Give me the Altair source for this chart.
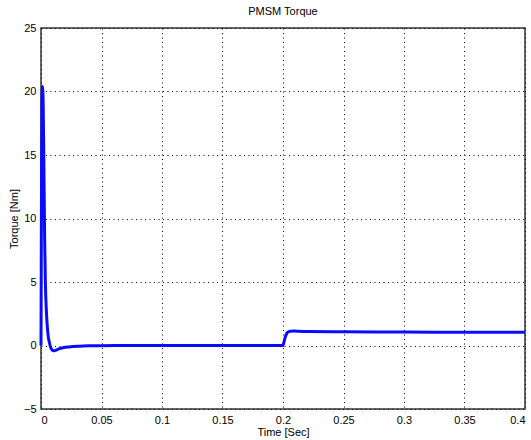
import altair as alt
import pandas as pd

time_s = [0.0, 0.0004, 0.0008, 0.0012, 0.0018, 0.0024, 0.003, 0.0036, 0.0044, 0.0052,
          0.006, 0.007, 0.008, 0.009, 0.010, 0.011, 0.012, 0.014, 0.016, 0.019,
          0.022, 0.026, 0.03, 0.035, 0.04, 0.05, 0.07, 0.1, 0.13, 0.16,
          0.19, 0.199, 0.2, 0.201, 0.202, 0.203, 0.204, 0.206, 0.209, 0.213,
          0.22, 0.25, 0.3, 0.35, 0.4]
torque_nm = [0.0, 12.0, 19.5, 20.4, 19.0, 14.0, 8.5, 5.0, 2.8, 1.5,
             0.7, 0.2, -0.15, -0.32, -0.4, -0.42, -0.38, -0.3, -0.22, -0.15,
             -0.11, -0.08, -0.05, -0.03, -0.02, -0.01, 0.0, 0.0, 0.0, 0.0,
             0.0, 0.0, 0.02, 0.35, 0.7, 0.92, 1.05, 1.12, 1.14, 1.12,
             1.1, 1.08, 1.06, 1.05, 1.05]

df = pd.DataFrame({"t": time_s, "torque": torque_nm})

font = "Liberation Sans"

chart = alt.Chart(df).mark_line(color="#0a0aff", strokeWidth=3, interpolate="monotone").encode(
    x=alt.X("t:Q", title="Time [Sec]",
            scale=alt.Scale(domain=[0, 0.4], nice=False, zero=False),
            axis=alt.Axis(values=[0, 0.05, 0.1, 0.15, 0.2, 0.25, 0.3, 0.35, 0.4],
                          labelExpr="datum.value == 0 ? '0' : format(datum.value, '.2~f')",
                          titlePadding=1, labelPadding=5)),
    y=alt.Y("torque:Q", title="Torque [Nm]",
            scale=alt.Scale(domain=[-5, 25], nice=False, zero=False),
            axis=alt.Axis(values=[-5, 0, 5, 10, 15, 20, 25], titlePadding=4, labelPadding=5)),
).properties(
    width=484, height=381,
    background="white",
    title=alt.TitleParams("PMSM Torque", fontSize=11, font=font, fontWeight="normal",
                          anchor="middle", offset=5, color="black"),
    autosize=alt.AutoSizeParams(type="none"),
    padding={"left": 41, "top": 28, "right": 6, "bottom": 31},
).configure_axis(
    grid=True, gridColor="black", gridDash=[1, 3.5], gridOpacity=1, gridWidth=1,
    domain=False, ticks=False,
    labelFont=font, labelFontSize=11, labelColor="black",
    titleFont=font, titleFontSize=11, titleFontWeight="normal", titleColor="black",
).configure_view(
    stroke="#333333", strokeWidth=1.5
)

chart.save("out.html", embed_options={"renderer": "svg", "actions": False})
